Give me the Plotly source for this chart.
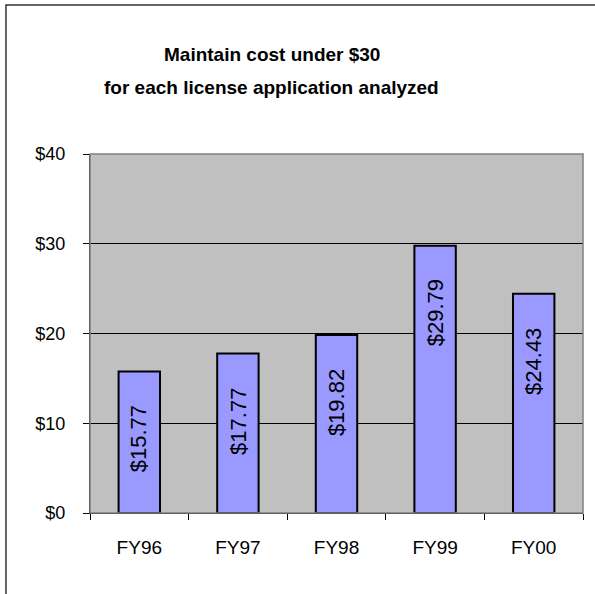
import plotly.graph_objects as go

categories = ["FY96", "FY97", "FY98", "FY99", "FY00"]
costs = [15.77, 17.77, 19.82, 29.79, 24.43]
labels = ["$15.77", "$17.77", "$19.82", "$29.79", "$24.43"]
y_tickvals = [0, 10, 20, 30, 40]
y_ticktext = ["$0", "$10", "$20", "$30", "$40"]
title_lines = ["Maintain cost under $30", "for each license application analyzed"]

FONT = "Liberation Sans, Arial, sans-serif"

fig = go.Figure()
fig.add_trace(go.Bar(
    x=categories, y=costs, width=0.42,
    marker=dict(color="#9999FF", line=dict(color="black", width=2)),
    hoverinfo="skip",
))

annotations = []
for c, v, t in zip(categories, costs, labels):
    annotations.append(dict(
        x=c, y=v, xref="x", yref="y", text=t, showarrow=False,
        textangle=-90, yanchor="top", xanchor="center", yshift=-32,
        font=dict(family=FONT, size=22, color="black"),
    ))

annotations.append(dict(x=0.369, y=1.276, xref="paper", yref="paper",
                        text="<b>" + title_lines[0] + "</b>", showarrow=False,
                        xanchor="center", yanchor="middle",
                        font=dict(family=FONT, size=19, color="black")))
annotations.append(dict(x=0.369, y=1.184, xref="paper", yref="paper",
                        text="<b>" + title_lines[1] + "</b>", showarrow=False,
                        xanchor="center", yanchor="middle",
                        font=dict(family=FONT, size=19, color="black")))

shapes = [
    dict(type="rect", xref="paper", yref="paper", x0=0, x1=1, y0=0, y1=1,
         line=dict(color="#808080", width=1.5), layer="above"),
    dict(type="rect", xref="paper", yref="paper", x0=-0.1704, x1=1.15,
         y0=-0.35, y1=1.415, line=dict(color="#333333", width=1.5), layer="below"),
]

fig.update_layout(
    width=595, height=594,
    margin=dict(l=90, r=12, t=154, b=81),
    paper_bgcolor="white", plot_bgcolor="#C0C0C0",
    showlegend=False,
    annotations=annotations,
    shapes=shapes,
    font=dict(family=FONT, color="black"),
)

fig.update_xaxes(
    showgrid=False, showline=True, linecolor="black", linewidth=1,
    ticks="outside", tickson="boundaries", ticklen=6, tickcolor="black",
    tickfont=dict(family=FONT, size=19, color="black"),
    ticklabelstandoff=17,
)
fig.update_yaxes(
    range=[0, 40], tickvals=y_tickvals, ticktext=y_ticktext,
    showgrid=True, gridcolor="black", gridwidth=1,
    showline=True, linecolor="black", linewidth=1,
    ticks="outside", ticklen=6, tickcolor="black",
    tickfont=dict(family=FONT, size=18, color="black"),
    ticklabelstandoff=14, zeroline=False,
)

fig.write_html("out.html")
